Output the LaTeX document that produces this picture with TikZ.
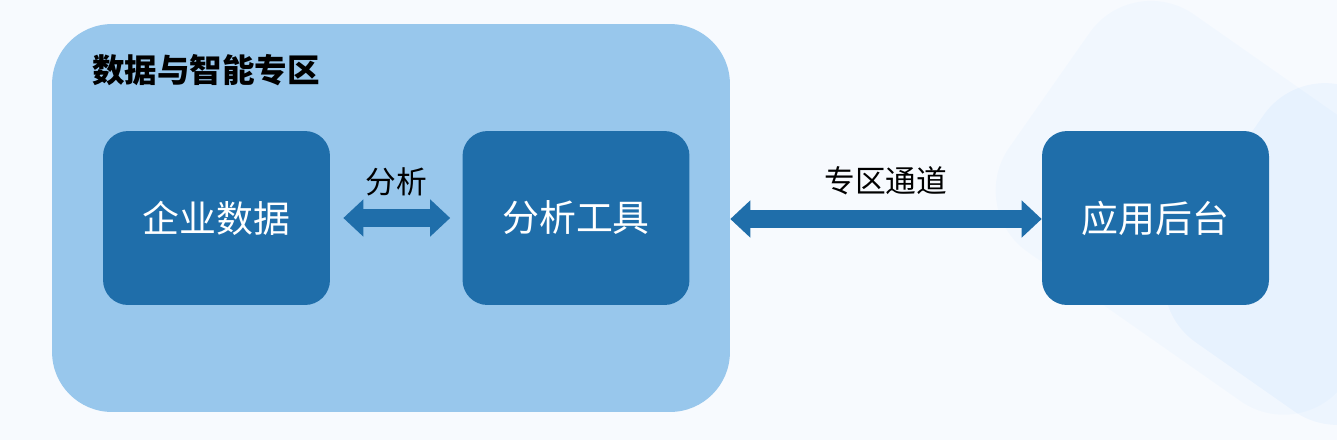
\documentclass[tikz,border=0pt]{standalone}
\usepackage{fontspec}
\setmainfont{Noto Sans CJK SC}
\usetikzlibrary{arrows.meta,positioning}
\definecolor{zoneblue}{HTML}{98C7EC}
\definecolor{boxblue}{HTML}{1F6EAA}
\definecolor{bgblue}{HTML}{F7FAFE}
\tikzset{
  zonebox/.style={rectangle,fill=zoneblue,rounded corners=1.2cm,minimum width=13.56cm,minimum height=7.76cm},
  blockbox/.style={rectangle,fill=boxblue,rounded corners=0.5cm,minimum width=4.54cm,minimum height=3.48cm,text=white,font=\fontsize{21}{24}\selectfont},
  fatarrow/.style={boxblue,line width=0.35cm,{Triangle[length=0.4cm,width=0.72cm]}-{Triangle[length=0.4cm,width=0.72cm]}},
  arrowtext/.style={font=\fontsize{17.5}{20}\selectfont}
}
\begin{document}
\begin{tikzpicture}[x=0.02cm,y=-0.02cm]
\useasboundingbox[fill=bgblue] (0,0) rectangle (1337,440);
% faint background shapes
\fill[blue!40!cyan,opacity=0.025,rounded corners=1.5cm,rotate around={-35:(1180,200)}] (1010,40) rectangle (1420,330);
\fill[blue!50!cyan,opacity=0.04,rounded corners=1.5cm,rotate around={-35:(1300,220)}] (1210,80) rectangle (1480,380);

\node[zonebox] (zone) at (391,218) {};
\node[anchor=west,inner sep=0pt,font=\fontsize{18.5}{22}\bfseries\selectfont] (title) at (92,70) {数据与智能专区};

\node[blockbox] (data) at (216.5,218) {企业数据};
\node[blockbox] (tool) at (576,218) {分析工具};
\node[blockbox] (app) at (1155.5,218) {应用后台};

\draw[fatarrow,shorten <=0.26cm,shorten >=0.24cm] (data.east) -- (tool.west)
  node[midway,yshift=0.72cm,arrowtext,text=black] (ana) {分析};
\draw[fatarrow] ([yshift=-0.02cm]zone.east) -- ([yshift=-0.02cm]app.west)
  node[midway,yshift=0.76cm,arrowtext,text=black] (chan) {专区通道};
\end{tikzpicture}
\end{document}
